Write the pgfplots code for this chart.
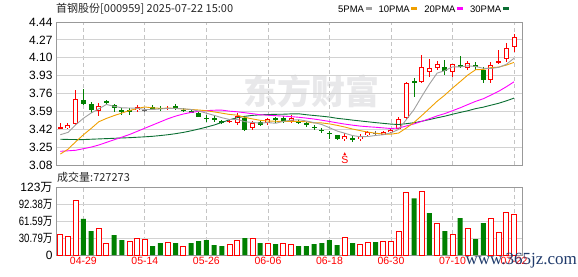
\documentclass[border=0pt]{standalone}
\usepackage{pgfplots}
\pgfplotsset{compat=1.18}
\usepackage{pgfplotstable}
\usepackage{graphicx}
\usepackage{fontspec}
\setmainfont{Liberation Sans}
\newfontfamily\cjk{Noto Sans CJK SC}
\newfontfamily\wmserif{Liberation Serif}
\definecolor{upred}{HTML}{FF0000}
\definecolor{dngreen}{HTML}{008000}
\definecolor{dojic}{HTML}{666666}
\definecolor{ma5c}{HTML}{A0A0A0}
\definecolor{ma10c}{HTML}{F0A000}
\definecolor{ma20c}{HTML}{FF00FF}
\definecolor{ma30c}{HTML}{0A6E32}
\definecolor{framec}{HTML}{999999}
\definecolor{gridc}{HTML}{D2D2D2}
\definecolor{vgridc}{HTML}{C4C4C4}
\definecolor{wmc}{HTML}{E8E8EA}
\definecolor{navy365}{HTML}{1F3A6B}

\pgfplotstableread{
i o h l c
0 3.432 3.48 3.43 3.438
1 3.43 3.48 3.42 3.46
2 3.47 3.79 3.46 3.71
5 3.59 3.67 3.55 3.64
10 3.60 3.65 3.58 3.63
14 3.615 3.64 3.60 3.62
22 3.49 3.51 3.48 3.50
23 3.48 3.57 3.46 3.545
25 3.43 3.50 3.41 3.475
27 3.48 3.53 3.46 3.52
30 3.50 3.56 3.48 3.53
37 3.325 3.38 3.31 3.355
39 3.325 3.375 3.305 3.355
40 3.365 3.40 3.35 3.39
42 3.37 3.405 3.365 3.39
43 3.39 3.43 3.385 3.415
44 3.42 3.54 3.41 3.515
45 3.525 3.87 3.52 3.86
47 3.87 4.13 3.86 4.01
48 3.96 4.09 3.92 4.00
49 4.00 4.07 3.98 4.04
51 3.96 4.045 3.92 4.04
53 4.00 4.07 3.98 4.05
56 3.89 4.06 3.86 4.03
57 4.05 4.17 4.04 4.065
58 4.09 4.24 4.06 4.19
59 4.20 4.33 4.15 4.30
}\upk

\pgfplotstableread{
i o h l c
3 3.70 3.80 3.65 3.66
4 3.66 3.68 3.57 3.60
6 3.69 3.70 3.65 3.67
7 3.65 3.66 3.58 3.62
8 3.60 3.62 3.56 3.59
9 3.60 3.62 3.56 3.59
12 3.625 3.65 3.60 3.62
13 3.62 3.64 3.59 3.615
15 3.64 3.66 3.60 3.62
16 3.605 3.62 3.58 3.60
17 3.59 3.60 3.575 3.585
18 3.57 3.58 3.54 3.54
19 3.525 3.56 3.49 3.52
20 3.52 3.55 3.49 3.515
21 3.495 3.51 3.47 3.49
24 3.53 3.55 3.40 3.41
26 3.49 3.50 3.45 3.465
28 3.52 3.54 3.48 3.515
29 3.53 3.55 3.48 3.50
31 3.495 3.51 3.47 3.49
32 3.48 3.49 3.44 3.46
33 3.44 3.46 3.41 3.435
34 3.415 3.43 3.38 3.41
35 3.385 3.40 3.325 3.38
36 3.365 3.37 3.32 3.33
38 3.33 3.355 3.295 3.325
46 3.88 3.905 3.73 3.86
50 4.015 4.08 3.94 3.975
52 4.03 4.12 4.00 4.01
54 4.03 4.06 3.98 4.01
55 3.985 4.01 3.86 3.89
}\downk

\pgfplotstableread{
i o h l c
11 3.60 3.62 3.58 3.60
41 3.38 3.40 3.355 3.38
}\dojik

\pgfplotstableread{
i m5 m10 m20 m30
0 3.368 3.184 3.210 3.325
1 3.390 3.230 3.215 3.323
2 3.462 3.301 3.220 3.322
3 3.524 3.367 3.235 3.322
4 3.574 3.427 3.250 3.325
5 3.614 3.491 3.270 3.328
6 3.656 3.523 3.295 3.331
7 3.638 3.550 3.320 3.334
8 3.624 3.574 3.345 3.337
9 3.622 3.598 3.370 3.340
10 3.620 3.617 3.400 3.344
11 3.608 3.632 3.430 3.348
12 3.608 3.623 3.460 3.353
13 3.613 3.619 3.490 3.360
14 3.619 3.621 3.520 3.368
15 3.617 3.619 3.545 3.378
16 3.615 3.612 3.565 3.390
17 3.608 3.608 3.580 3.405
18 3.593 3.603 3.590 3.422
19 3.573 3.596 3.597 3.440
20 3.552 3.585 3.601 3.460
21 3.530 3.573 3.602 3.485
22 3.513 3.561 3.592 3.510
23 3.514 3.554 3.586 3.530
24 3.492 3.533 3.577 3.543
25 3.484 3.518 3.568 3.552
26 3.479 3.505 3.558 3.557
27 3.483 3.498 3.553 3.560
28 3.477 3.496 3.549 3.562
29 3.495 3.494 3.545 3.563
30 3.506 3.495 3.540 3.566
31 3.511 3.495 3.534 3.567
32 3.499 3.491 3.526 3.558
33 3.483 3.480 3.517 3.551
34 3.465 3.480 3.506 3.544
35 3.435 3.471 3.494 3.536
36 3.403 3.457 3.481 3.524
37 3.382 3.441 3.469 3.516
38 3.360 3.422 3.459 3.507
39 3.349 3.407 3.450 3.499
40 3.351 3.393 3.444 3.491
41 3.361 3.382 3.439 3.483
42 3.368 3.375 3.433 3.476
43 3.386 3.373 3.427 3.469
44 3.418 3.384 3.432 3.465
45 3.512 3.432 3.451 3.473
46 3.608 3.485 3.471 3.482
47 3.732 3.550 3.495 3.496
48 3.849 3.618 3.520 3.512
49 3.954 3.686 3.547 3.529
50 3.977 3.745 3.569 3.544
51 4.013 3.811 3.596 3.563
52 4.013 3.873 3.624 3.580
53 4.023 3.936 3.655 3.596
54 4.017 3.986 3.685 3.616
55 4.000 3.989 3.710 3.630
56 3.998 4.006 3.745 3.649
57 4.009 4.011 3.781 3.667
58 4.037 4.030 3.824 3.690
59 4.095 4.056 3.871 3.716
}\mas

\pgfplotstableread{
i v
0 37.3
1 33.6
2 99.1
5 48.7
6 21.0
9 24.6
10 30.6
11 28.2
14 22.8
16 16.2
22 19.2
23 27.0
25 30.6
27 21.6
29 21.0
30 19.2
37 31.8
39 19.2
40 22.8
42 25.2
43 25.2
44 42.7
45 113.0
47 115.3
49 57.1
51 37.3
53 48.7
56 66.7
57 40.9
58 76.9
59 72.73
}\volup

\pgfplotstableread{
i v
3 65.5
4 43.3
7 36.0
8 27.0
12 16.2
13 21.6
15 21.6
17 21.6
18 25.2
19 27.0
20 18.0
21 16.2
24 30.6
26 21.6
28 19.8
31 16.2
32 16.2
33 19.8
34 21.6
35 27.0
36 18.0
38 21.6
41 23.4
46 102.7
48 75.7
50 43.3
52 66.7
54 28.8
55 57.7
}\voldown

\pgfplotsset{
  panel/.style={
    scale only axis, width=466pt,
    xmin=-0.56, xmax=60.04,
    axis line style={framec, line width=0.8pt},
    major tick length=0pt,
    xtick={3,11,19,27,35,43,51,59},
    xmajorgrids, ymajorgrids,
    x grid style={vgridc, dash pattern=on 4pt off 3pt, line width=0.8pt},
    y grid style={gridc, line width=0.8pt},
    yticklabel style={font=\fontsize{12}{12}\selectfont, text=black},
  },
  ebar/.style 2 args={forget plot, draw=none, mark=none,
    error bars/.cd, y dir=both, y explicit, error mark=none,
    error bar style={solid, draw=#1, line width=#2}},
}

\begin{document}
\begin{tikzpicture}
\useasboundingbox (0,0) rectangle (578pt,276pt);
% watermark
\node[text=wmc] at (311pt,185pt) {\cjk\bfseries\fontsize{34}{34}\selectfont 东方财富};

\begin{axis}[panel, at={(56pt,111pt)}, anchor=south west, height=143pt,
  ymin=3.08, ymax=4.44,
  ytick={3.08,3.25,3.42,3.59,3.76,3.93,4.10,4.27,4.44},
  yticklabels={3.08,3.25,3.42,3.59,3.76,3.93,4.10,4.27,4.44},
  xticklabels={}]
% wicks
\addplot[ebar={upred}{1pt}] table[x=i, y expr={(\thisrow{h}+\thisrow{l})/2}, y error expr={(\thisrow{h}-\thisrow{l})/2}] {\upk};
\addplot[ebar={dngreen}{1pt}] table[x=i, y expr={(\thisrow{h}+\thisrow{l})/2}, y error expr={(\thisrow{h}-\thisrow{l})/2}] {\downk};
\addplot[ebar={dojic}{1pt}] table[x=i, y expr={(\thisrow{h}+\thisrow{l})/2}, y error expr={(\thisrow{h}-\thisrow{l})/2}] {\dojik};
% bodies
\addplot[ebar={upred}{5pt}] table[x=i, y expr={(\thisrow{o}+\thisrow{c})/2}, y error expr={max(abs(\thisrow{c}-\thisrow{o})/2,0.005)}] {\upk};
\addplot[ebar={white}{3pt}] table[x=i, y expr={(\thisrow{o}+\thisrow{c})/2}, y error expr={max(abs(\thisrow{c}-\thisrow{o})/2-0.0095,0)}] {\upk};
\addplot[ebar={dngreen}{5pt}] table[x=i, y expr={(\thisrow{o}+\thisrow{c})/2}, y error expr={max(abs(\thisrow{c}-\thisrow{o})/2,0.005)}] {\downk};
\addplot[ebar={dojic}{5pt}] table[x=i, y expr={(\thisrow{o}+\thisrow{c})/2}, y error expr={max(abs(\thisrow{c}-\thisrow{o})/2,0.005)}] {\dojik};
% moving averages
\addplot[ma30c, line width=0.9pt, mark=none] table[x=i, y=m30] {\mas};
\addplot[ma20c, line width=0.9pt, mark=none] table[x=i, y=m20] {\mas};
\addplot[ma10c, line width=0.9pt, mark=none] table[x=i, y=m10] {\mas};
\addplot[ma5c, line width=0.9pt, mark=none] table[x=i, y=m5] {\mas};
% S marker
\node[text=upred, font=\fontsize{5}{5}\selectfont, inner sep=0pt] at (axis cs:37,3.18) {▲};
\node[text=upred, font=\fontsize{10.5}{10.5}\selectfont, inner sep=0pt] at (axis cs:37,3.125) {S};
\end{axis}

\begin{axis}[panel, at={(56pt,21pt)}, anchor=south west, height=68pt,
  ymin=0, ymax=123.17,
  ytick={0,30.79,61.59,92.38,123.17},
  yticklabels={0,\scalebox{0.8}[1]{30.79{\cjk 万}},\scalebox{0.8}[1]{61.59{\cjk 万}},\scalebox{0.8}[1]{92.38{\cjk 万}},123{\cjk 万}},
  xticklabels={04-29,05-14,05-26,06-06,06-18,06-30,07-10,07-22},
  xticklabel style={text=upred, font=\fontsize{10.5}{10.5}\selectfont, yshift=1pt}]
\addplot[ybar, bar width=5pt, bar shift=0pt, draw=upred, fill=white, line width=0.9pt] table[x=i, y=v] {\volup};
\addplot[ybar, bar width=5pt, bar shift=0pt, draw=none, fill=dngreen] table[x=i, y=v] {\voldown};
\end{axis}

% title, legend, volume label
\node[anchor=west, inner sep=0pt, text=black!85] at (56pt,267pt) {\cjk\fontsize{11}{11}\selectfont 首钢股份[000959] 2025-07-22 15:00};
\node[anchor=west, inner sep=0pt] at (338pt,267pt) {\fontsize{9.5}{9.5}\selectfont
  5PMA\,\textcolor{ma5c}{\rule[2pt]{6pt}{3.5pt}}\hspace{7pt}10PMA\,\textcolor{ma10c}{\rule[2pt]{6pt}{3.5pt}}\hspace{7pt}20PMA\,\textcolor{ma20c}{\rule[2pt]{6pt}{3.5pt}}\hspace{7pt}30PMA\,\textcolor{ma30c}{\rule[2pt]{6pt}{3.5pt}}};
\node[anchor=west, inner sep=0pt, text=black!85] at (57pt,99pt) {\cjk\fontsize{11}{11}\selectfont 成交量:727273};
% site watermark
\node[anchor=east, inner sep=0pt, text=navy365] at (577pt,15pt) {\wmserif\fontsize{17}{17}\selectfont www.365jz.com};
\end{tikzpicture}
\end{document}
